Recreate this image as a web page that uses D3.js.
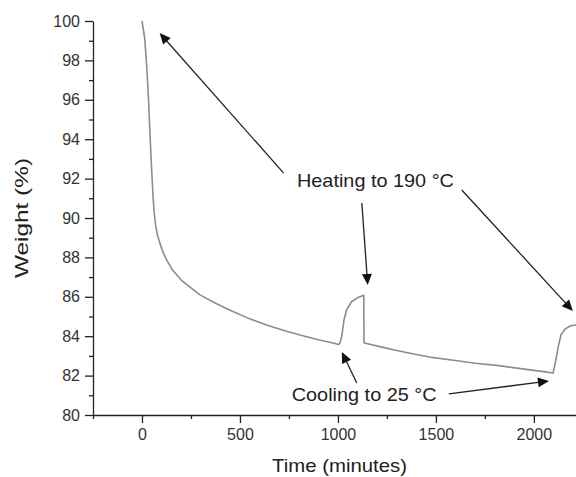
<!DOCTYPE html>
<html>
<head>
<meta charset="utf-8">
<script src="https://cdn.jsdelivr.net/npm/d3@7"></script>
<style>
  html, body { margin: 0; padding: 0; background: #fff; }
  svg { display: block; font-family: "Liberation Sans", Arial, sans-serif; }
</style>
</head>
<body>
<div id="chart"></div>
<script>
// TGA trace: time (min) and weight (%)
var time = [0, 5, 14, 20, 27, 34, 42, 51, 56, 61, 70, 80, 92, 110, 130, 153, 200, 250, 296, 380, 464, 550, 636, 720, 806, 900, 980, 1003,
    1010, 1019, 1031, 1044, 1069, 1103, 1132, 1133, 1146, 1214, 1300, 1400, 1469, 1600, 1700, 1810, 1950, 2050, 2098,
    2104, 2112, 2126, 2138, 2160, 2186, 2215];
var weight = [100, 99.7, 99.1, 98.3, 97.2, 95.9, 94.0, 92.1, 91.2, 90.4, 89.6, 89.1, 88.7, 88.2, 87.8, 87.4, 86.85, 86.45, 86.1, 85.65, 85.25, 84.88, 84.57, 84.3, 84.06, 83.82, 83.64, 83.58,
    83.65, 83.97, 84.82, 85.33, 85.75, 85.97, 86.08, 83.67, 83.63, 83.47, 83.27, 83.07, 82.94, 82.77, 82.63, 82.52, 82.33, 82.2, 82.13,
    82.4, 82.79, 83.55, 84.06, 84.37, 84.52, 84.58];

var xMajorTicks = [0, 500, 1000, 1500, 2000];
var xMinorTicks = [-250, 250, 750, 1250, 1750];
var yMajorTicks = [80, 82, 84, 86, 88, 90, 92, 94, 96, 98, 100];
var yMinorTicks = [81, 83, 85, 87, 89, 91, 93, 95, 97, 99];

// annotation arrows in data units: [tailTime, tailWeight, tipTime, tipWeight]
var heatingArrows = [[723, 92.28, 90, 99.39], [1122, 90.76, 1152, 86.6], [1632, 91.42, 2199, 85.28]];
var coolingArrows = [[1096, 81.62, 1020, 83.2], [1566, 81.07, 2077, 81.73]];
var labels = [
    {text: "Heating to 190 \u00b0C", t: 791, w: 91.59, len: 157},
    {text: "Cooling to 25 \u00b0C", t: 764, w: 80.71, len: 145}
];

var width = 576, height = 477;
var margin = {top: 21, right: 0, bottom: 62, left: 93};

var svg = d3.select("#chart").append("svg")
    .attr("width", width)
    .attr("height", height);

var x = d3.scaleLinear().domain([-250, 2215]).range([margin.left, width - margin.right]);
var y = d3.scaleLinear().domain([80, 100]).range([height - margin.bottom, margin.top]);

var axisColor = "#222";

// minor ticks first, majors on top
svg.append("g")
    .attr("transform", "translate(0," + y(80) + ")")
    .call(d3.axisBottom(x).tickValues(xMinorTicks).tickSize(4).tickFormat(""))
    .call(g => g.select(".domain").remove());
svg.append("g")
    .attr("transform", "translate(" + x(-250) + ",0)")
    .call(d3.axisLeft(y).tickValues(yMinorTicks).tickSize(4).tickFormat(""))
    .call(g => g.select(".domain").remove());

svg.append("g")
    .attr("transform", "translate(0," + y(80) + ")")
    .call(d3.axisBottom(x).tickValues(xMajorTicks).tickFormat(d3.format("d"))
        .tickSize(8).tickSizeOuter(0).tickPadding(6));
svg.append("g")
    .attr("transform", "translate(" + x(-250) + ",0)")
    .call(d3.axisLeft(y).tickValues(yMajorTicks).tickFormat(d3.format("d"))
        .tickSize(8).tickSizeOuter(0).tickPadding(5));

svg.selectAll(".tick line, .domain")
    .attr("stroke", axisColor)
    .attr("stroke-width", 1.3);
svg.selectAll(".tick text")
    .attr("fill", "#333")
    .style("font-size", "16px")
    .style("font-family", "'Liberation Sans', Arial, sans-serif");

// axis titles
svg.append("text")
    .attr("x", 339.5)
    .attr("y", 472)
    .attr("text-anchor", "middle")
    .attr("textLength", 135)
    .attr("lengthAdjust", "spacingAndGlyphs")
    .style("font-size", "19px")
    .attr("fill", "#222")
    .text("Time (minutes)");

svg.append("text")
    .attr("transform", "translate(27.5," + ((y(80) + y(100)) / 2) + ") rotate(-90)")
    .attr("text-anchor", "middle")
    .attr("textLength", 120)
    .attr("lengthAdjust", "spacingAndGlyphs")
    .style("font-size", "19px")
    .attr("fill", "#222")
    .text("Weight (%)");

// the trace
var line = d3.line()
    .x((d, i) => x(time[i]))
    .y(d => y(d));

svg.append("path")
    .datum(weight)
    .attr("d", line)
    .attr("fill", "none")
    .attr("stroke", "#8c8c8c")
    .attr("stroke-width", 1.6)
    .attr("stroke-linejoin", "round");

// arrows
function drawArrow(a) {
    var x0 = x(a[0]), y0 = y(a[1]), x1 = x(a[2]), y1 = y(a[3]);
    var dx = x1 - x0, dy = y1 - y0, len = Math.sqrt(dx * dx + dy * dy);
    var ux = dx / len, uy = dy / len;
    var headLen = 11, headW = 5;
    var bx = x1 - ux * headLen, by = y1 - uy * headLen;
    svg.append("line")
        .attr("x1", x0).attr("y1", y0)
        .attr("x2", bx + ux * 2).attr("y2", by + uy * 2)
        .attr("stroke", "#222")
        .attr("stroke-width", 1.3);
    svg.append("path")
        .attr("d", "M" + x1 + "," + y1 +
            "L" + (bx - uy * headW) + "," + (by + ux * headW) +
            "L" + (bx + uy * headW) + "," + (by - ux * headW) + "Z")
        .attr("fill", "#111");
}
heatingArrows.forEach(drawArrow);
coolingArrows.forEach(drawArrow);

svg.selectAll(".note")
    .data(labels)
    .enter().append("text")
    .attr("class", "note")
    .attr("x", d => x(d.t))
    .attr("y", d => y(d.w))
    .attr("textLength", d => d.len)
    .attr("lengthAdjust", "spacingAndGlyphs")
    .style("font-size", "19px")
    .attr("fill", "#222")
    .text(d => d.text);
</script>
</body>
</html>
